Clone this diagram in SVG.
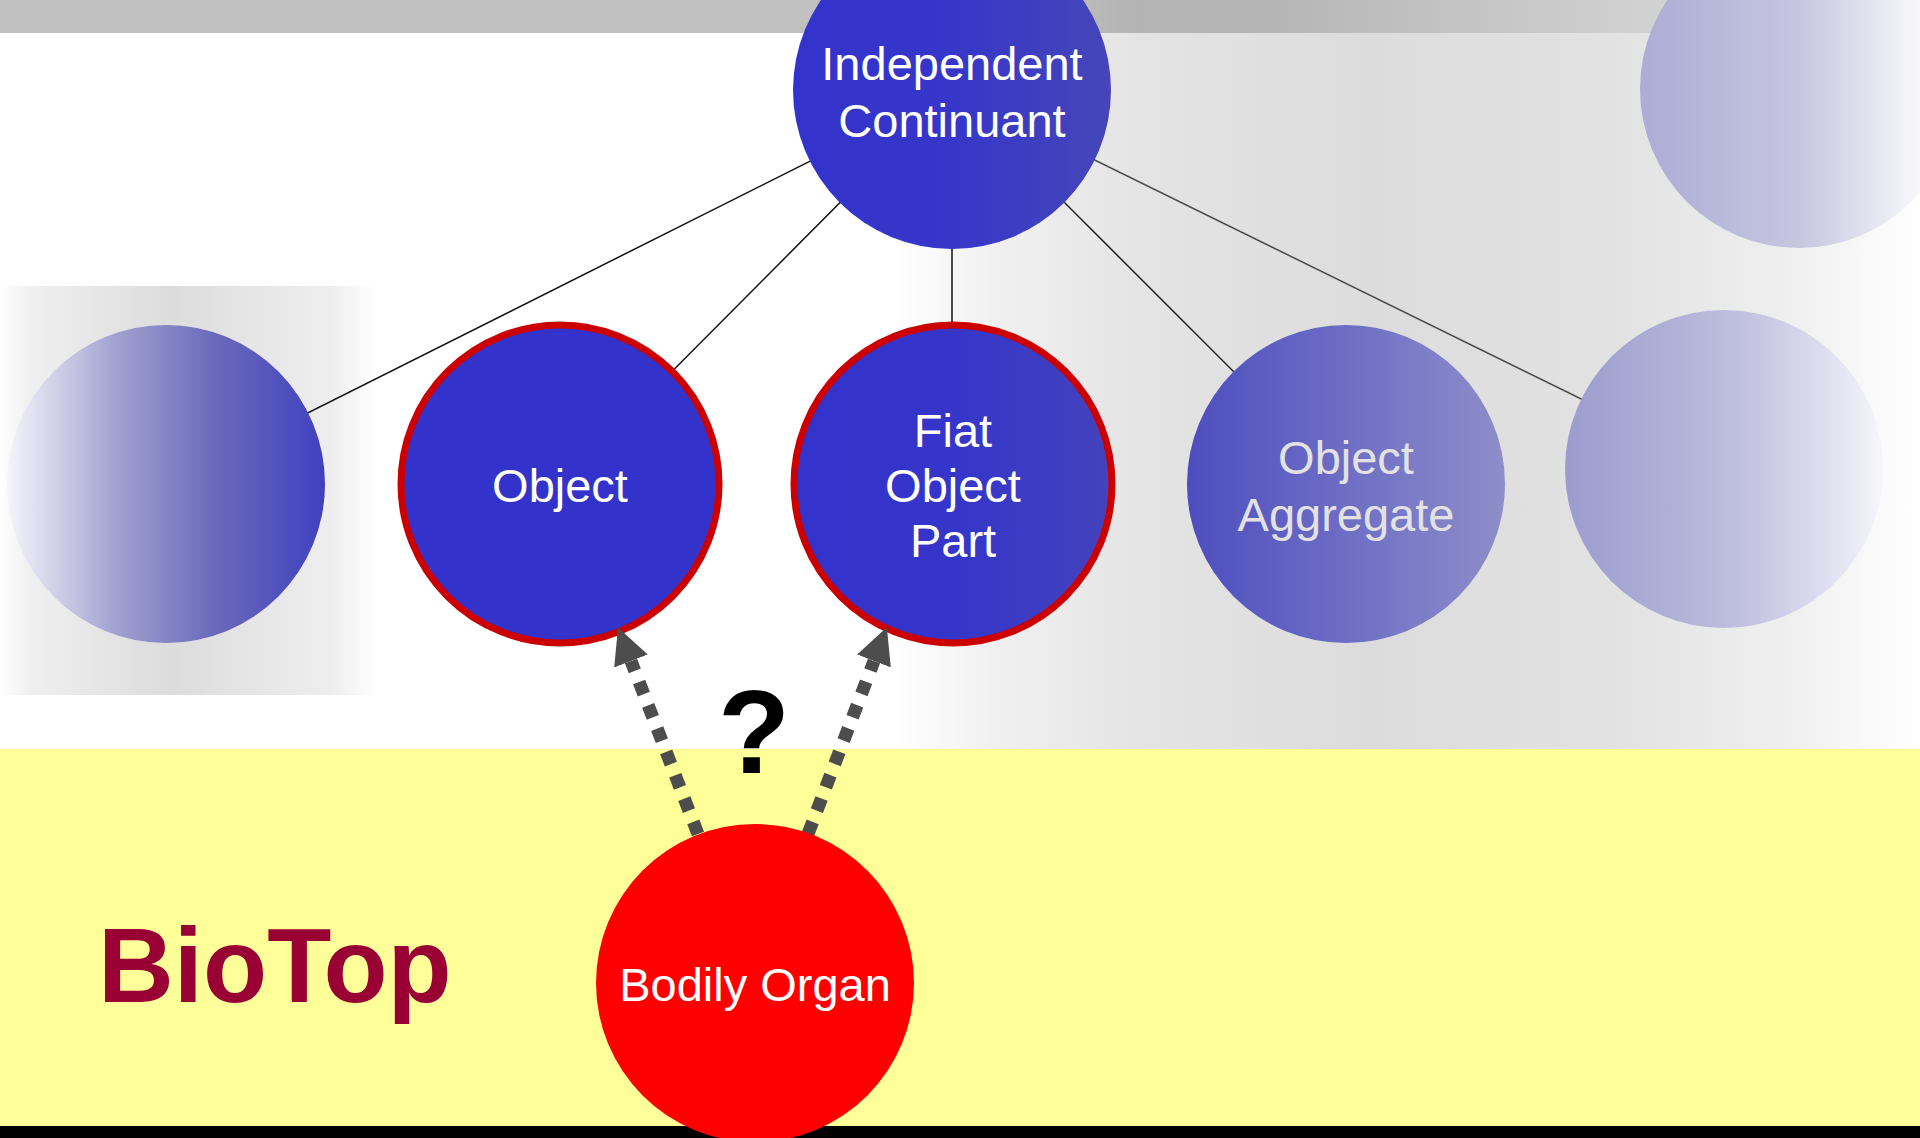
<svg xmlns="http://www.w3.org/2000/svg" width="1920" height="1138" viewBox="0 0 1920 1138">
  <defs>
    <linearGradient id="barGrad" x1="0" y1="0" x2="1920" y2="0" gradientUnits="userSpaceOnUse">
      <stop offset="0" stop-color="#c0c0c0"/>
      <stop offset="0.55" stop-color="#c0c0c0"/>
      <stop offset="0.59" stop-color="#b3b3b3"/>
      <stop offset="0.66" stop-color="#b5b5b5"/>
      <stop offset="0.75" stop-color="#c2c2c2"/>
      <stop offset="0.85" stop-color="#d0d0d0"/>
      <stop offset="1" stop-color="#e0e0e0"/>
    </linearGradient>
    <linearGradient id="rightBand" x1="0" y1="0" x2="1" y2="0">
      <stop offset="0" stop-color="#ffffff"/>
      <stop offset="0.1" stop-color="#f0f0f0"/>
      <stop offset="0.24" stop-color="#e4e4e4"/>
      <stop offset="0.46" stop-color="#dcdcdc"/>
      <stop offset="0.7" stop-color="#e2e2e2"/>
      <stop offset="0.87" stop-color="#efefef"/>
      <stop offset="1" stop-color="#ffffff"/>
    </linearGradient>
    <linearGradient id="leftBand" x1="0" y1="0" x2="1" y2="0">
      <stop offset="0" stop-color="#ffffff"/>
      <stop offset="0.08" stop-color="#f0f0f0"/>
      <stop offset="0.45" stop-color="#dcdcdc"/>
      <stop offset="0.88" stop-color="#eeeeee"/>
      <stop offset="1" stop-color="#ffffff"/>
    </linearGradient>
    <linearGradient id="gIC" x1="0" y1="0" x2="1" y2="0">
      <stop offset="0" stop-color="#3333cc"/>
      <stop offset="0.5" stop-color="#3636c9"/>
      <stop offset="1" stop-color="#4646b9"/>
    </linearGradient>
    <linearGradient id="gFOP" x1="0" y1="0" x2="1" y2="0">
      <stop offset="0" stop-color="#3333cc"/>
      <stop offset="0.5" stop-color="#3535ca"/>
      <stop offset="1" stop-color="#4343bd"/>
    </linearGradient>
    <linearGradient id="gOA" x1="0" y1="0" x2="1" y2="0">
      <stop offset="0" stop-color="#4d4dc0"/>
      <stop offset="1" stop-color="#8e8eca"/>
    </linearGradient>
    <linearGradient id="gLeft" x1="0" y1="0" x2="1" y2="0">
      <stop offset="0" stop-color="#f4f4fa"/>
      <stop offset="0.12" stop-color="#d8d8ec"/>
      <stop offset="0.35" stop-color="#a0a0d0"/>
      <stop offset="0.65" stop-color="#6a6abb"/>
      <stop offset="1" stop-color="#4040c0"/>
    </linearGradient>
    <linearGradient id="gRight" x1="0" y1="0" x2="1" y2="0">
      <stop offset="0" stop-color="#9c9ccf"/>
      <stop offset="0.3" stop-color="#aeaed6"/>
      <stop offset="0.55" stop-color="#c0c0e0"/>
      <stop offset="0.8" stop-color="#dcdcee"/>
      <stop offset="1" stop-color="#f6f6fb"/>
    </linearGradient>
    <linearGradient id="gTopRight" x1="0" y1="0" x2="1" y2="0">
      <stop offset="0" stop-color="#acacd6"/>
      <stop offset="0.5" stop-color="#c6c6e0"/>
      <stop offset="0.88" stop-color="#f8f8fb"/>
      <stop offset="1" stop-color="#ffffff"/>
    </linearGradient>
    <marker id="head" viewBox="0 -18 36 36" refX="0" refY="0" markerWidth="36" markerHeight="36" markerUnits="userSpaceOnUse" orient="auto">
      <path d="M0,-18 L36,0 L0,18 Z" fill="#4d4d4d"/>
    </marker>
    <style>
      .label { font-family: "Liberation Sans", Arial, sans-serif; font-size: 47px; text-anchor: middle; fill: #ffffff; }
      .dim { fill: #e2e2e2; }
      .link { stroke: #111111; stroke-width: 1.5; fill: none; }
      .dotted { stroke: #4d4d4d; stroke-width: 13; stroke-dasharray: 13 12; fill: none; marker-end: url(#head); }
      .picked { stroke: #cc0000; stroke-width: 7; }
    </style>
  </defs>

  <!-- backdrop bands -->
  <rect x="0" y="0" width="1920" height="1138" fill="#ffffff"/>
  <rect x="895" y="0" width="1025" height="749" fill="url(#rightBand)"/>
  <rect x="0" y="0" width="1920" height="33" fill="url(#barGrad)"/>
  <rect x="0" y="286" width="377" height="409" fill="url(#leftBand)"/>
  <rect x="0" y="749" width="1920" height="377" fill="#ffff99"/>
  <rect x="0" y="1126" width="1920" height="12" fill="#000000"/>

  <!-- subclass links -->
  <g id="connectors">
    <line class="link" x1="952" y1="90" x2="166" y2="484"/>
    <line class="link" x1="952" y1="90" x2="560" y2="484"/>
    <line class="link" x1="952" y1="90" x2="952" y2="484"/>
    <line class="link" x1="952" y1="90" x2="1346" y2="484" style="stroke:#222222"/>
    <line class="link" x1="952" y1="90" x2="1724" y2="469" style="stroke:#4a4a4a"/>
  </g>

  <g id="node-top-right">
    <circle cx="1799" cy="89" r="159" fill="url(#gTopRight)"/>
  </g>

  <g id="node-independent-continuant">
    <circle cx="952" cy="90" r="159" fill="url(#gIC)"/>
    <text class="label" x="952" y="80">Independent</text>
    <text class="label" x="952" y="137">Continuant</text>
  </g>

  <g id="node-left">
    <circle cx="166" cy="484" r="159" fill="url(#gLeft)"/>
  </g>

  <g id="node-object">
    <circle class="picked" cx="560" cy="484" r="159" fill="#3333cc"/>
    <text class="label" x="560" y="502">Object</text>
  </g>

  <g id="node-fiat-object-part">
    <circle class="picked" cx="953" cy="484" r="159" fill="url(#gFOP)"/>
    <text class="label" x="953" y="447">Fiat</text>
    <text class="label" x="953" y="502">Object</text>
    <text class="label" x="953" y="557">Part</text>
  </g>

  <g id="node-object-aggregate">
    <circle cx="1346" cy="484" r="159" fill="url(#gOA)"/>
    <text class="label dim" x="1346" y="474">Object</text>
    <text class="label dim" x="1346" y="531">Aggregate</text>
  </g>

  <g id="node-right">
    <circle cx="1724" cy="469" r="159" fill="url(#gRight)"/>
  </g>

  <!-- open questions: which parent does the organ belong under -->
  <g id="question-arrows">
    <line class="dotted" x1="698" y1="834" x2="631" y2="661"/>
    <line class="dotted" x1="808" y1="834" x2="874" y2="661"/>
  </g>
  <text x="754" y="773" font-family="Liberation Sans, Arial, sans-serif" font-weight="bold" font-size="118" text-anchor="middle" fill="#000000">?</text>

  <g id="node-bodily-organ">
    <circle cx="755" cy="983" r="159" fill="#ff0000"/>
    <text class="label" x="755" y="1001">Bodily Organ</text>
  </g>

  <text x="98" y="1002" font-family="Liberation Sans, Arial, sans-serif" font-weight="bold" font-size="105" fill="#990033">BioTop</text>
</svg>
